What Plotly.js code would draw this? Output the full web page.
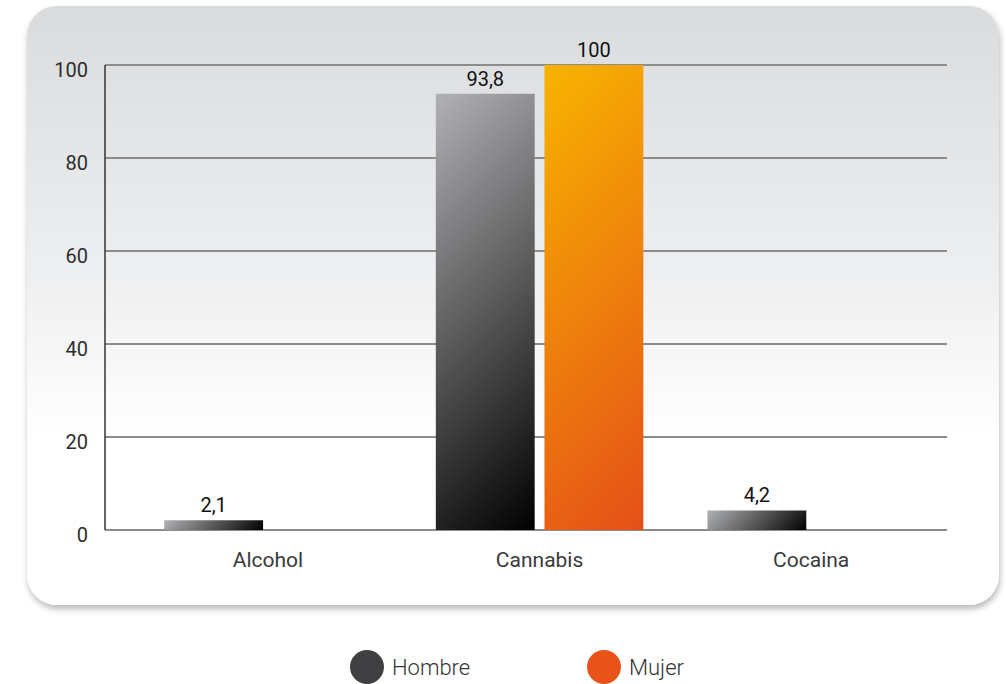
<!DOCTYPE html>
<html>
<head>
<meta charset="utf-8">
<script src="https://cdn.plot.ly/plotly-3.0.1.min.js"></script>
<style>
  html, body { margin:0; padding:0; background:#ffffff; width:1006px; height:684px; overflow:hidden; }
  #panel { position:absolute; left:27px; top:6px; width:972px; height:599px; border-radius:30px;
           background:linear-gradient(to bottom, #dadbdd 0%, #eeeff0 45%, #ffffff 72%, #ffffff 100%);
           box-shadow: 1px 4px 6px rgba(0,0,0,0.28); }
  #chart { position:absolute; left:0; top:0; width:1006px; height:684px; }
</style>
</head>
<body>
<div id="panel"></div>
<div id="chart"></div>
<script>
const categories = ["Alcohol", "Cannabis", "Cocaina"];
const hombre = [2.1, 93.8, 4.2];
const mujer = [null, 100, null];
const seriesNames = ["Hombre", "Mujer"];
const yTicks = [0, 20, 40, 60, 80, 100];

const fmt = v => (v === null ? "" : String(v).replace(".", ","));
const FONT = "Roboto, sans-serif";

const traces = [
  { type:"bar", name:seriesNames[0], x:categories, y:hombre, text:hombre.map(fmt),
    textposition:"outside", cliponaxis:false,
    textfont:{family:FONT, size:20, color:"#111111"},
    marker:{color:"#404042"}, showlegend:false, hoverinfo:"skip" },
  { type:"bar", name:seriesNames[1], x:categories, y:mujer, text:mujer.map(fmt),
    textposition:"outside", cliponaxis:false,
    textfont:{family:FONT, size:20, color:"#111111"},
    marker:{color:"#e8531a"}, showlegend:false, hoverinfo:"skip" }
];

const legendColors = ["#404042", "#e8531a"];
const legendX = [367, 604];
const W = 1006, H = 684;
const PL = 105, PR = 947, PT = 60, PB = 530;
const Y100 = 65;
const yMax = 100 * (PB - PT) / (PB - Y100);
const shapes = [], annotations = [];
seriesNames.forEach((n, i) => {
  const cx = legendX[i], cy = 667, r = 17;
  shapes.push({ type:"circle", xref:"paper", yref:"paper",
    x0:(cx - r - PL) / (PR - PL), x1:(cx + r - PL) / (PR - PL),
    y0:(PB - (cy + r)) / (PB - PT), y1:(PB - (cy - r)) / (PB - PT),
    fillcolor:legendColors[i], line:{width:0} });
  annotations.push({ xref:"paper", yref:"paper",
    x:(cx + 23 - PL) / (PR - PL), y:(PB - cy) / (PB - PT),
    xanchor:"left", yanchor:"middle", showarrow:false, text:n,
    font:{family:FONT, size:22, weight:300, color:"#333333"} });
});

const layout = {
  width:W, height:H,
  margin:{l:PL, r:W - PR, t:PT, b:H - PB, pad:0},
  paper_bgcolor:"rgba(0,0,0,0)", plot_bgcolor:"rgba(0,0,0,0)",
  barmode:"group", bargap:0.2, bargroupgap:0.09,
  hovermode:false, showlegend:false,
  font:{family:FONT, color:"#333333"},
  xaxis:{ range:[-0.6, 2.5], showgrid:false, zeroline:false, showline:false,
    ticks:"outside", ticklen:11, tickcolor:"rgba(0,0,0,0)",
    tickfont:{family:FONT, size:21, color:"#3a3a3a"}, fixedrange:true },
  yaxis:{ range:[0, yMax], tickvals:yTicks, ticktext:yTicks.map(String),
    showgrid:true, gridcolor:"#8c8c8c", gridwidth:1.5,
    zeroline:true, zerolinecolor:"#8c8c8c", zerolinewidth:1.5,
    showline:false, ticks:"outside", ticklen:12, tickcolor:"rgba(0,0,0,0)",
    ticklabelshift:5,
    tickfont:{family:FONT, size:20, color:"#2e2e2e"}, fixedrange:true },
  shapes:shapes.concat([{ type:"line", xref:"paper", yref:"y", x0:0, x1:0, y0:0, y1:100,
    line:{color:"#333333", width:1.5} }]),
  annotations:annotations
};

Plotly.newPlot("chart", traces, layout, {displayModeBar:false, staticPlot:true}).then(gd => {
  const NS = "http://www.w3.org/2000/svg";
  const stops = [["#b1b2b4", "#000000"], ["#f8b400", "#e54f18"]];
  let k = 0;
  const groups = gd.querySelectorAll(".barlayer .trace.bars");
  groups.forEach((tg, i) => {
    tg.querySelectorAll(".point path").forEach(p => {
      const b = p.getBBox();
      if (!b.width || !b.height) return;
      const d = (b.width + b.height) / 2;
      const id = "grad" + (k++);
      const g = document.createElementNS(NS, "linearGradient");
      g.setAttribute("id", id);
      g.setAttribute("gradientUnits", "userSpaceOnUse");
      g.setAttribute("x1", b.x); g.setAttribute("y1", b.y);
      g.setAttribute("x2", b.x + d); g.setAttribute("y2", b.y + d);
      [[0, stops[i][0]], [1, stops[i][1]]].forEach(([o, c]) => {
        const s = document.createElementNS(NS, "stop");
        s.setAttribute("offset", o); s.setAttribute("stop-color", c);
        g.appendChild(s);
      });
      p.parentNode.parentNode.insertBefore(g, p.parentNode.parentNode.firstChild);
      p.style.fill = "url(#" + id + ")";
      p.style.fillOpacity = 1;
    });
  });
});
</script>
</body>
</html>
